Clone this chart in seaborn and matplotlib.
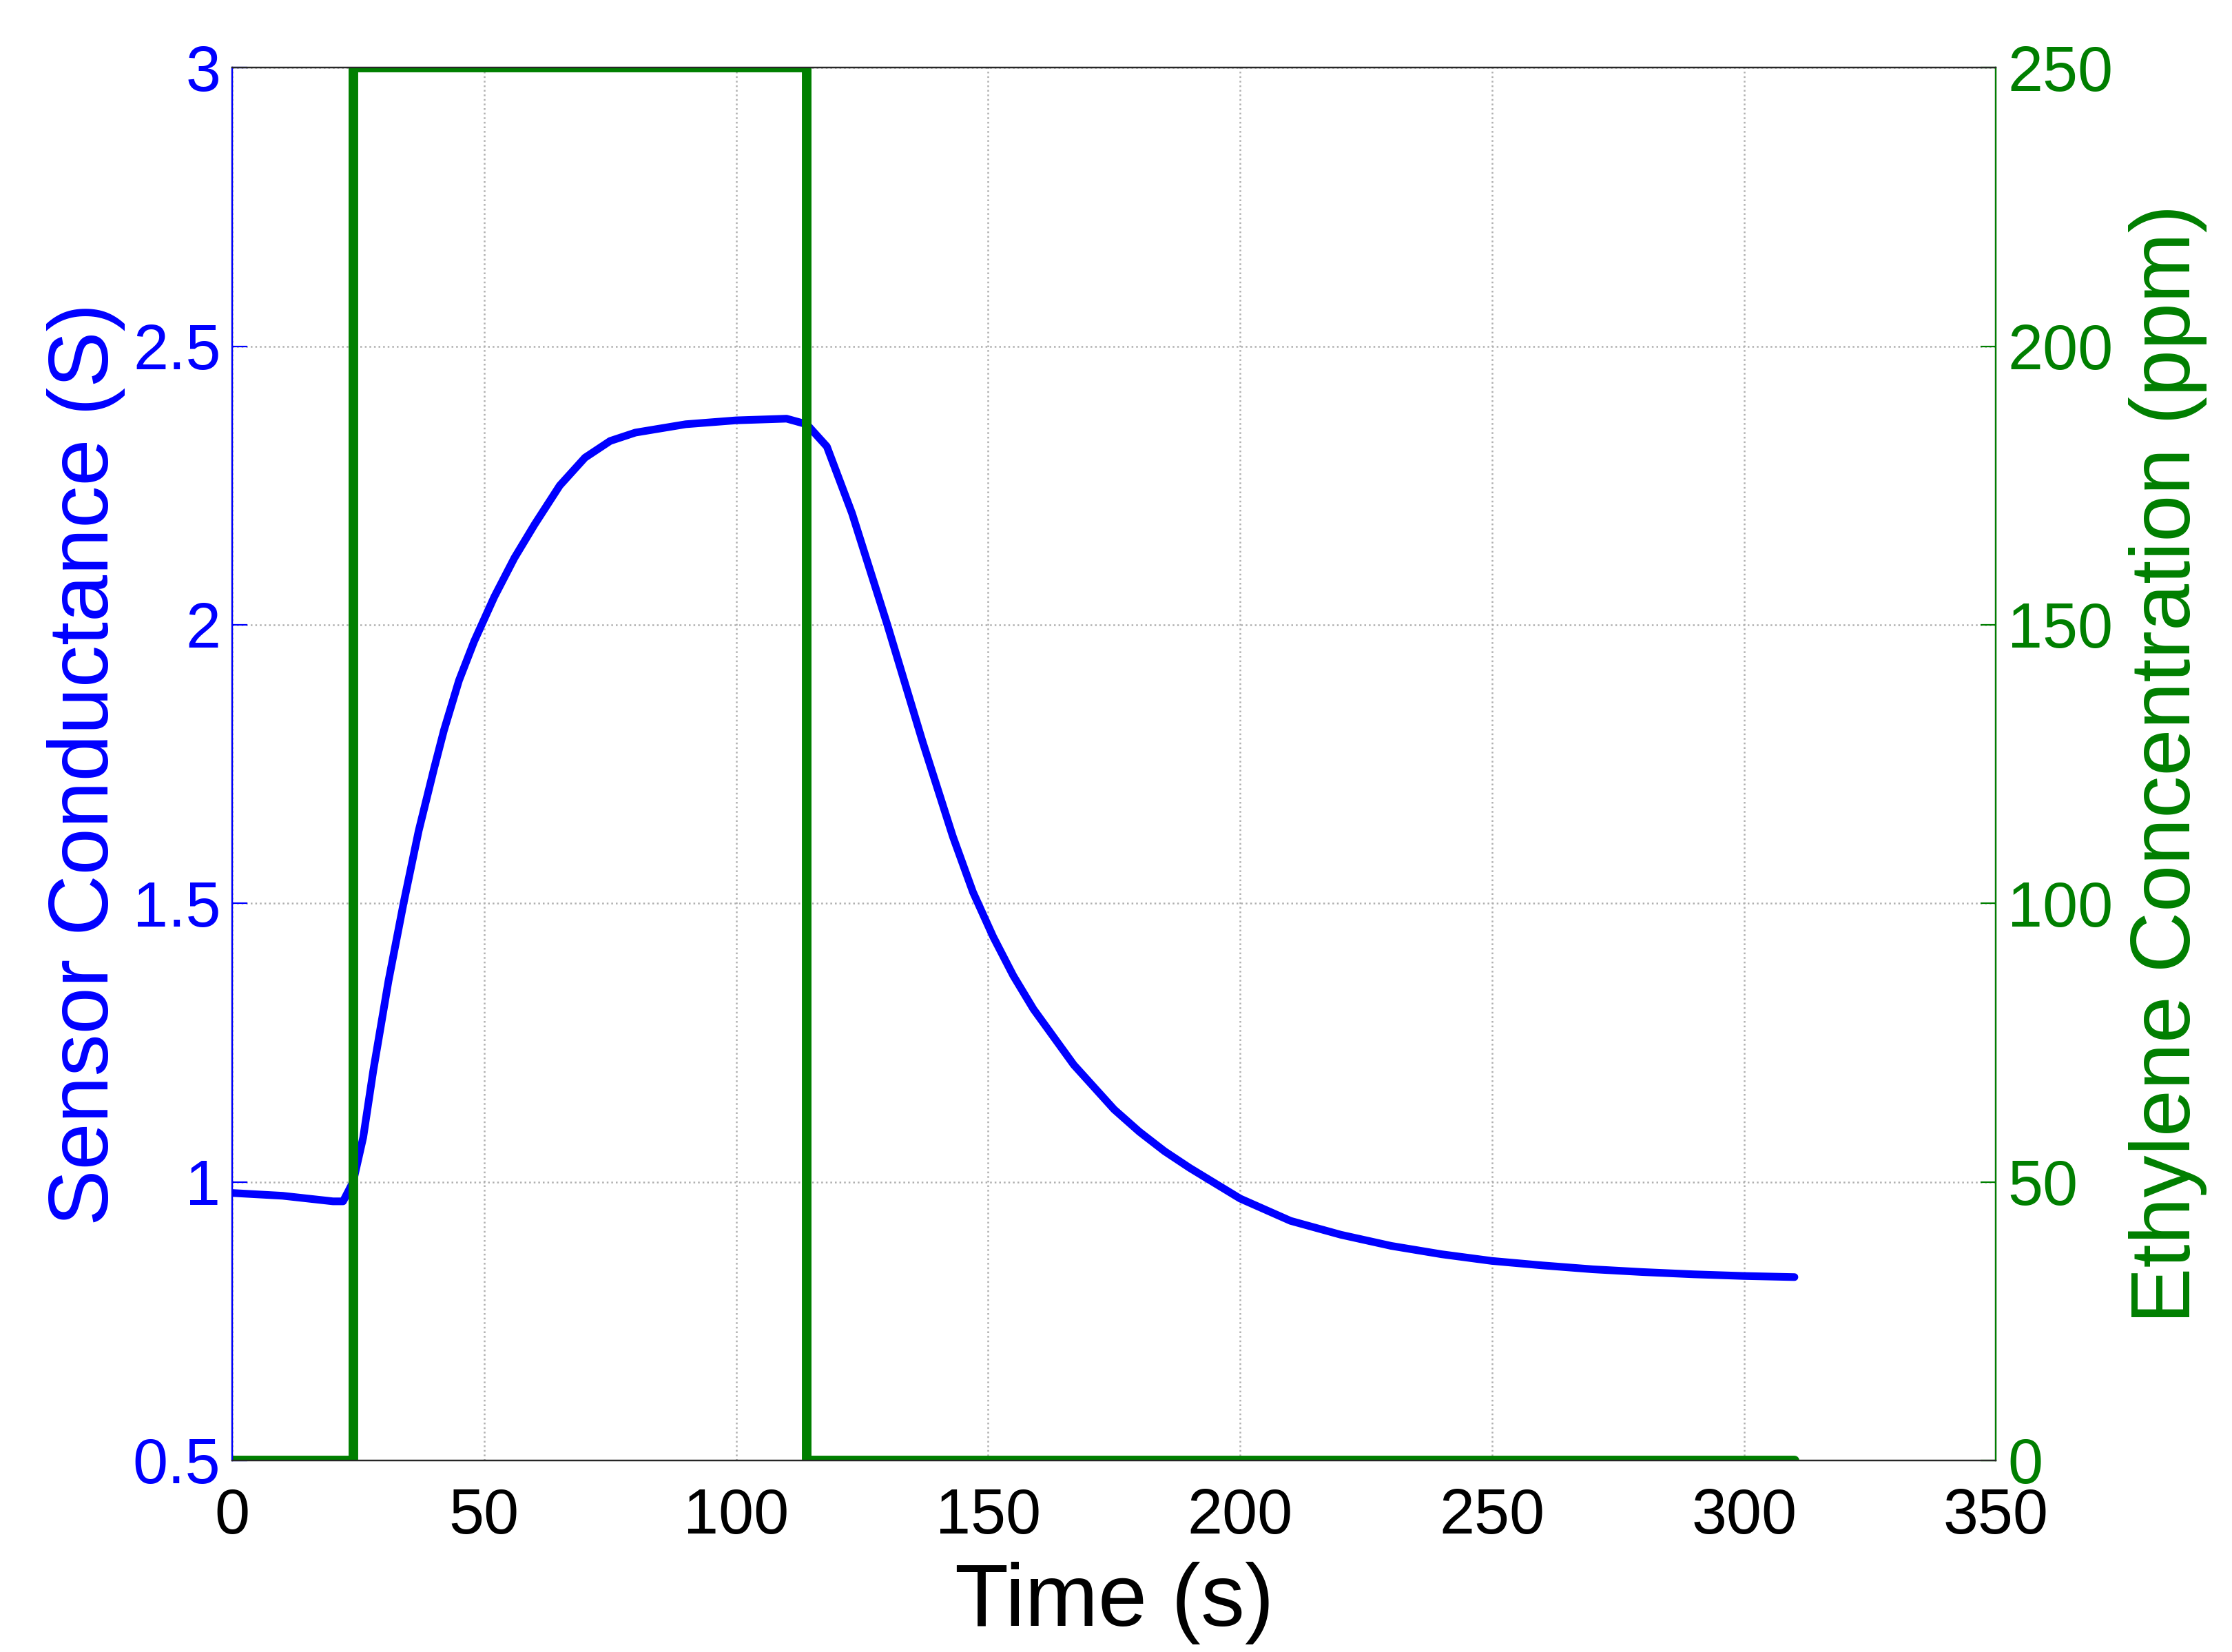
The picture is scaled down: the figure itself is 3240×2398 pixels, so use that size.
import numpy as np
import pandas as pd
import matplotlib
matplotlib.use("Agg")
import matplotlib.pyplot as plt
import seaborn as sns

# Sensor conductance
time_s = [0, 10, 20, 22, 24, 26, 28, 31, 34, 37, 40, 42, 45, 48, 52, 56, 60, 65, 70, 75, 80, 90,
          100, 110, 114, 118, 123, 130, 137, 143, 147, 151, 155, 159, 163, 167, 171, 175, 180,
          185, 190, 200, 210, 220, 230, 240, 250, 260, 270, 280, 290, 300, 310]
conductance = [0.98, 0.975, 0.965, 0.965, 1.0, 1.08, 1.2, 1.36, 1.5, 1.63, 1.74, 1.81, 1.9, 1.97,
               2.05, 2.12, 2.18, 2.25, 2.3, 2.33, 2.345, 2.36, 2.367, 2.37, 2.36, 2.32, 2.2, 2.0,
               1.79, 1.62, 1.52, 1.44, 1.37, 1.31, 1.26, 1.21, 1.17, 1.13, 1.09, 1.055, 1.025,
               0.97, 0.93, 0.905, 0.885, 0.87, 0.858, 0.85, 0.843, 0.838, 0.834, 0.831, 0.829]

# Ethylene concentration step profile
conc_time = [0, 24, 24, 114, 114, 310]
conc_ppm = [0, 0, 250, 250, 0, 0]

sns.set_style("white")
plt.rcParams['font.family'] = ['Liberation Sans', 'DejaVu Sans']

blue = "#0000ff"
green = "#007f00"

fig = plt.figure(figsize=(16.205, 11.99), dpi=200)
ax = fig.add_axes([0.104, 0.116, 0.79, 0.843])
ax2 = ax.twinx()

sns.lineplot(x=time_s, y=conductance, ax=ax, color=blue, lw=4, estimator=None, sort=False)
sns.lineplot(x=conc_time, y=conc_ppm, ax=ax2, color=green, lw=5, estimator=None, sort=False)

ax.set_xlim(0, 350)
ax.set_ylim(0.5, 3)
ax2.set_ylim(0, 250)
ax.set_xticks(range(0, 351, 50))
ax.set_yticks([0.5, 1, 1.5, 2, 2.5, 3])
ax.set_yticklabels(["0.5", "1", "1.5", "2", "2.5", "3"])
ax2.set_yticks(range(0, 251, 50))

ax.grid(True, color="#b0b0b0", linestyle=":", lw=0.9)
ax.set_xlabel("Time (s)", fontsize=46, color="black", labelpad=8)
ax.set_ylabel("Sensor Conductance (S)", fontsize=44, color=blue, labelpad=4)
ax2.set_ylabel("Ethylene Concentration (ppm)", fontsize=44, color=green, labelpad=8)

ax.tick_params(axis='x', labelsize=33, colors="black", direction="in", length=8, pad=14)
ax.tick_params(axis='y', labelsize=33, colors=blue, direction="in", length=8, pad=6)
ax2.tick_params(axis='y', labelsize=33, colors=green, direction="in", length=8, pad=6)
for side in ax.spines.values():
    side.set_color("black")
ax2.spines['left'].set_color(blue)
ax2.spines['right'].set_color(green)

fig.savefig("out.png", dpi=200, facecolor="white")
